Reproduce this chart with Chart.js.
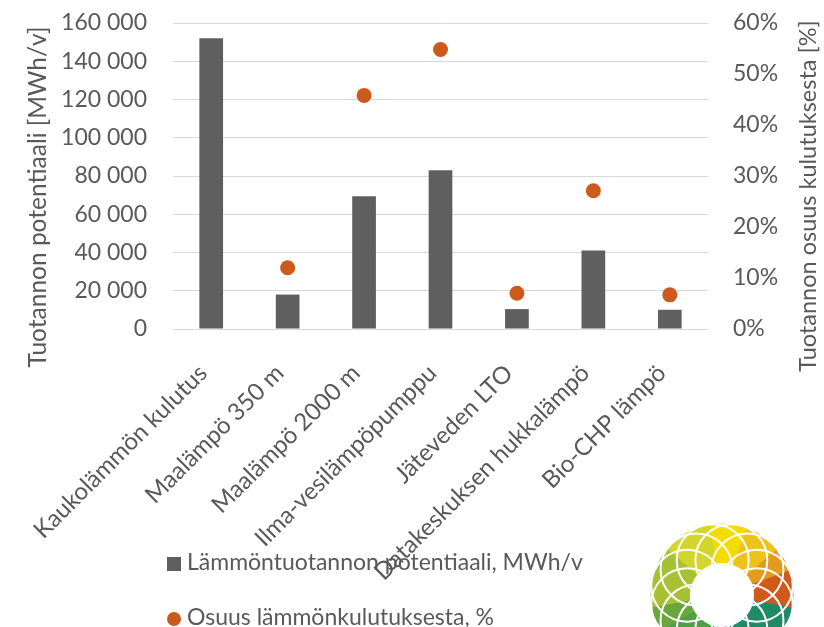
<!DOCTYPE html>
<html>
<head>
<meta charset="utf-8">
<script src="https://cdn.jsdelivr.net/npm/chart.js@4/dist/chart.umd.min.js"></script>
<style>
	html, body { margin: 0; padding: 0; background: #fff; }
	#wrap { position: relative; width: 824px; height: 627px; overflow: hidden; }
	.legend { position: absolute; left: 167px; font-family: Lato, "Open Sans", sans-serif; font-size: 23px; color: #595959; white-space: nowrap; }
	.legend i { display: inline-block; width: 14px; height: 14px; margin-right: 6px; vertical-align: -1px; }
</style>
</head>
<body>
<div id="wrap">
	<canvas id="chart" width="824" height="627"></canvas>
	<div class="legend" style="top:547px"><i style="background:#5f5f5f"></i>Lämmöntuotannon potentiaali, MWh/v</div>
	<div class="legend" style="top:602px"><i style="background:#cc5a1c;border-radius:50%"></i>Osuus lämmönkulutuksesta, %</div>
</div>
<script>
// categories and values
const categories = ['Kaukolämmön kulutus', 'Maalämpö 350 m', 'Maalämpö 2000 m', 'Ilma-vesilämpöpumppu', 'Jäteveden LTO', 'Datakeskuksen hukkalämpö', 'Bio-CHP lämpö'];
const potential = [152000, 18000, 69400, 83000, 10400, 41100, 10050];   // MWh/v
const share = [null, 12.0, 45.8, 54.8, 7.0, 27.1, 6.7];                    // %

const leftTitle = 'Tuotannon potentiaali [MWh/v]';
const rightTitle = 'Tuotannon osuus kulutuksesta [%]';

const grey = '#595959';
const font = 'Lato, "Open Sans", sans-serif';

// axis titles sit lower than chart.js would put them, so draw them here
const titles = {
	id: 'titles',
	afterDraw(chart) {
		let ctx = chart.ctx;
		ctx.save();
		ctx.fillStyle = grey;
		ctx.textAlign = 'center';
		ctx.textBaseline = 'middle';
		ctx.font = '24.5px ' + font;
		ctx.translate(38, 197);
		ctx.rotate(-Math.PI/2);
		ctx.fillText(leftTitle, 0, 0);
		ctx.restore();

		ctx.save();
		ctx.fillStyle = grey;
		ctx.textAlign = 'center';
		ctx.textBaseline = 'middle';
		ctx.font = '23.5px ' + font;
		ctx.translate(808, 196);
		ctx.rotate(-Math.PI/2);
		ctx.fillText(rightTitle, 0, 0);
		ctx.restore();
	}
};

// decorative logo bottom right
const logo = {
	id: 'logo',
	afterDraw(chart) {
		let ctx = chart.ctx;
		let cx = 722, cy = 595, R = 72, r = 32;
		let stops = [
			[-180, '#a7c134'], [-135, '#d2d52b'], [-100, '#f3dc00'], [-70, '#efc21a'],
			[-40, '#e39a1f'], [-15, '#cf5a1c'], [12, '#1f8a66'], [60, '#21936a'],
			[110, '#4f9f45'], [150, '#6ba63c'], [170, '#a7c134']
		];
		let seg = 36;
		ctx.save();
		for(let i = 0; i < seg; i++)
		{
			let a0 = -180 + i*360/seg, a1 = a0 + 360/seg;
			let mid = (a0 + a1)/2;
			let col = stops[0][1];
			for(const s of stops)
				if(mid >= s[0]) col = s[1];
			ctx.beginPath();
			ctx.arc(cx, cy, R, a0*Math.PI/180, a1*Math.PI/180 + 0.01);
			ctx.arc(cx, cy, r, a1*Math.PI/180 + 0.01, a0*Math.PI/180, true);
			ctx.closePath();
			ctx.fillStyle = col;
			ctx.fill();
		}
		// white circle outlines give the petal pattern
		ctx.strokeStyle = '#fff';
		ctx.lineWidth = 2;
		for(let i = 0; i < 12; i++)
		{
			let a = i*Math.PI/6 + Math.PI/12;
			ctx.beginPath();
			ctx.arc(cx + Math.cos(a)*36, cy + Math.sin(a)*36, 36, 0, Math.PI*2);
			ctx.stroke();
		}
		ctx.beginPath();
		ctx.arc(cx, cy, R + 1, 0, Math.PI*2);
		ctx.lineWidth = 3;
		ctx.stroke();
		ctx.restore();
	}
};

new Chart(document.getElementById('chart'), {
	type: 'bar',
	data: {
		labels: categories,
		datasets: [
			{
				type: 'line',
				label: 'Osuus lämmönkulutuksesta, %',
				data: share,
				yAxisID: 'y1',
				showLine: false,
				pointRadius: 7.5,
				pointBackgroundColor: '#cc5a1c',
				pointBorderWidth: 0,
				borderColor: '#cc5a1c',
			},
			{
				label: 'Lämmöntuotannon potentiaali, MWh/v',
				data: potential,
				yAxisID: 'y',
				backgroundColor: '#5f5f5f',
				barPercentage: 0.31,
				categoryPercentage: 1,
			},
		]
	},
	options: {
		responsive: false,
		animation: false,
		layout: { padding: 0 },
		plugins: {
			legend: { display: false },
			tooltip: { enabled: false },
		},
		scales: {
			x: {
				grid: { display: false },
				border: { display: false },
				ticks: {
					color: grey,
					font: { family: font, size: 24 },
					minRotation: 45,
					maxRotation: 45,
					padding: 22,
					labelOffset: -8,
					autoSkip: false,
				},
				afterFit: s => { s.height = 298; },
			},
			y: {
				position: 'left',
				min: 0,
				max: 160000,
				grid: { color: '#d9d9d9', drawTicks: false },
				border: { display: false },
				ticks: {
					stepSize: 20000,
					color: grey,
					font: { family: font, size: 23 },
					padding: 26,
					callback: v => String(v).replace(/\B(?=(\d{3})+(?!\d))/g, ' '),
				},
				afterFit: s => { s.width = 173; s.paddingTop = 23; s.paddingBottom = 0; },
			},
			y1: {
				position: 'right',
				min: 0,
				max: 60,
				grid: { display: false, drawTicks: false },
				border: { display: false },
				ticks: {
					stepSize: 10,
					color: grey,
					font: { family: font, size: 23 },
					padding: 25,
					callback: v => v + '%',
				},
				afterFit: s => { s.width = 116; s.paddingTop = 23; s.paddingBottom = 0; },
			},
		}
	},
	plugins: [titles, logo]
});
</script>
</body>
</html>
